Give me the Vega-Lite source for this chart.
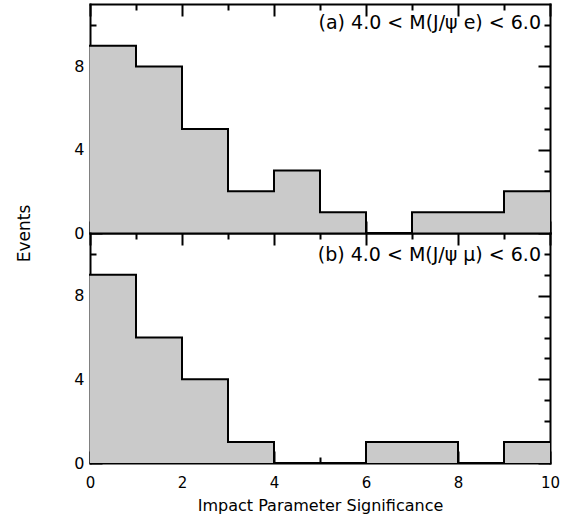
{
  "$schema": "https://vega.github.io/schema/vega-lite/v6.json",
  "padding": {"left": 15, "top": 3, "right": 5, "bottom": 5},
  "background": "white",
  "config": {
    "font": "DejaVu Sans",
    "view": {"stroke": null},
    "axis": {
      "domainColor": "black", "domainWidth": 2, "domainCap": "square",
      "tickColor": "black", "tickWidth": 2, "tickCap": "butt",
      "labelFont": "DejaVu Sans", "labelFontSize": 16, "labelColor": "black",
      "labelFlush": false, "labelOverlap": false,
      "titleFont": "DejaVu Sans", "titleFontSize": 17, "titleFontWeight": "normal", "titleColor": "black",
      "grid": false, "zindex": 1
    },
    "title": {"font": "DejaVu Sans", "fontSize": 19, "fontWeight": "normal", "color": "black"}
  },
  "data": {"values": [
    {"panel": "a", "start": 0, "end": 1, "count": 9},
    {"panel": "a", "start": 1, "end": 2, "count": 8},
    {"panel": "a", "start": 2, "end": 3, "count": 5},
    {"panel": "a", "start": 3, "end": 4, "count": 2},
    {"panel": "a", "start": 4, "end": 5, "count": 3},
    {"panel": "a", "start": 5, "end": 6, "count": 1},
    {"panel": "a", "start": 6, "end": 7, "count": 0},
    {"panel": "a", "start": 7, "end": 8, "count": 1},
    {"panel": "a", "start": 8, "end": 9, "count": 1},
    {"panel": "a", "start": 9, "end": 10, "count": 2},
    {"panel": "b", "start": 0, "end": 1, "count": 9},
    {"panel": "b", "start": 1, "end": 2, "count": 6},
    {"panel": "b", "start": 2, "end": 3, "count": 4},
    {"panel": "b", "start": 3, "end": 4, "count": 1},
    {"panel": "b", "start": 4, "end": 5, "count": 0},
    {"panel": "b", "start": 5, "end": 6, "count": 0},
    {"panel": "b", "start": 6, "end": 7, "count": 1},
    {"panel": "b", "start": 7, "end": 8, "count": 1},
    {"panel": "b", "start": 8, "end": 9, "count": 0},
    {"panel": "b", "start": 9, "end": 10, "count": 1}
  ]},
  "spacing": 0,
  "bounds": "flush",
  "vconcat": [
    {
      "width": 460, "height": 229,
      "title": {"text": "(a) 4.0 < M(J/ψ e) < 6.0", "anchor": "end", "frame": "group", "orient": "top", "offset": -45, "dx": -9, "baseline": "alphabetic"},
      "transform": [
        {"filter": "datum.panel == 'a'"},
        {"fold": ["start", "end"], "as": ["edge", "x"]}
      ],
      "layer": [
        {
          "mark": {"type": "area", "color": "#cacaca", "interpolate": "linear"},
          "encoding": {
            "x": {"field": "x", "type": "quantitative", "scale": {"domain": [0, 10], "nice": false, "zero": false},
              "axis": {"orient": "bottom", "values": [0,1,2,3,4,5,6,7,8,9,10],
                "tickSize": {"condition": {"test": "datum.value % 2 === 0", "value": -12}, "value": -6},
                "labels": false, "title": null}},
            "y": {"field": "count", "type": "quantitative", "stack": null, "scale": {"domain": [0, 11], "nice": false},
              "axis": {"orient": "left", "values": [0,1,2,3,4,5,6,7,8,9,10],
                "tickSize": {"condition": {"test": "datum.value % 4 === 0", "value": -12}, "value": -6},
                "labelExpr": "datum.value % 4 === 0 ? datum.label : ''", "labelPadding": 18,
                "title": "Events", "titleX": -61, "titleY": 229, "titleBaseline": "alphabetic", "titleAlign": "center", "titleAngle": 270}},
            "order": [{"field": "start"}, {"field": "edge", "sort": "descending"}]
          }
        },
        {
          "mark": {"type": "line", "color": "black", "strokeWidth": 2, "strokeJoin": "miter", "strokeCap": "square"},
          "encoding": {
            "x": {"field": "x", "type": "quantitative",
              "axis": {"orient": "top", "values": [0,1,2,3,4,5,6,7,8,9,10],
                "tickSize": {"condition": {"test": "datum.value % 2 === 0", "value": -12}, "value": -6},
                "labels": false, "title": null}},
            "y": {"field": "count", "type": "quantitative", "stack": null,
              "axis": {"orient": "right", "values": [0,1,2,3,4,5,6,7,8,9,10],
                "tickSize": {"condition": {"test": "datum.value % 4 === 0", "value": -12}, "value": -6},
                "labels": false, "title": null}},
            "order": [{"field": "start"}, {"field": "edge", "sort": "descending"}]
          }
        }
      ],
      "resolve": {"axis": {"x": "independent", "y": "independent"}}
    },
    {
      "width": 460, "height": 230,
      "title": {"text": "(b) 4.0 < M(J/ψ μ) < 6.0", "anchor": "end", "frame": "group", "orient": "top", "offset": -48, "dx": -9, "baseline": "alphabetic"},
      "transform": [
        {"filter": "datum.panel == 'b'"},
        {"fold": ["start", "end"], "as": ["edge", "x"]}
      ],
      "layer": [
        {
          "mark": {"type": "area", "color": "#cacaca", "interpolate": "linear"},
          "encoding": {
            "x": {"field": "x", "type": "quantitative", "scale": {"domain": [0, 10], "nice": false, "zero": false},
              "axis": {"orient": "bottom", "values": [0,1,2,3,4,5,6,7,8,9,10],
                "tickSize": {"condition": {"test": "datum.value % 2 === 0", "value": -12}, "value": -6},
                "labelExpr": "datum.value % 2 === 0 ? datum.label : ''", "labelPadding": 24, "labelFontSize": 15,
                "title": "Impact Parameter Significance", "titleY": 47, "titleFontSize": 16, "titleBaseline": "alphabetic"}},
            "y": {"field": "count", "type": "quantitative", "stack": null, "scale": {"domain": [0, 11], "nice": false},
              "axis": {"orient": "left", "values": [0,1,2,3,4,5,6,7,8,9,10],
                "tickSize": {"condition": {"test": "datum.value % 4 === 0", "value": -12}, "value": -6},
                "labelExpr": "datum.value % 4 === 0 ? datum.label : ''", "labelPadding": 18,
                "title": null}},
            "order": [{"field": "start"}, {"field": "edge", "sort": "descending"}]
          }
        },
        {
          "mark": {"type": "line", "color": "black", "strokeWidth": 2, "strokeJoin": "miter", "strokeCap": "square"},
          "encoding": {
            "x": {"field": "x", "type": "quantitative",
              "axis": {"orient": "top", "values": [0,1,2,3,4,5,6,7,8,9,10],
                "tickSize": {"condition": {"test": "datum.value % 2 === 0", "value": -12}, "value": -6},
                "labels": false, "title": null}},
            "y": {"field": "count", "type": "quantitative", "stack": null,
              "axis": {"orient": "right", "values": [0,1,2,3,4,5,6,7,8,9,10],
                "tickSize": {"condition": {"test": "datum.value % 4 === 0", "value": -12}, "value": -6},
                "labels": false, "title": null}},
            "order": [{"field": "start"}, {"field": "edge", "sort": "descending"}]
          }
        }
      ],
      "resolve": {"axis": {"x": "independent", "y": "independent"}}
    }
  ]
}
